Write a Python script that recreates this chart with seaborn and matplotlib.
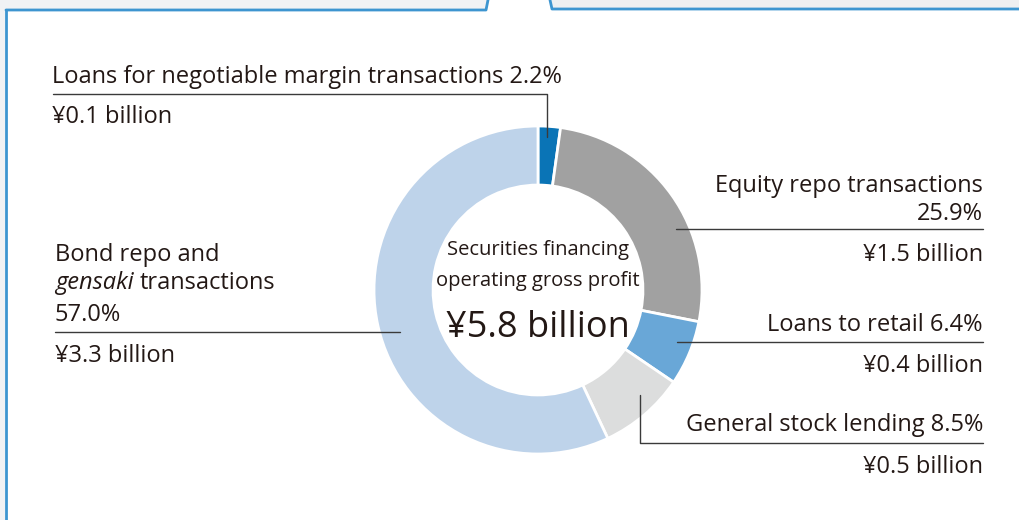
import numpy as np
import matplotlib
matplotlib.use("Agg")
import matplotlib.pyplot as plt
import seaborn as sns

# Datos del gráfico (orden horario desde arriba)
segmentos = ["Loans for negotiable margin transactions", "Equity repo transactions",
             "Loans to retail", "General stock lending", "Bond repo and gensaki transactions"]
porcentajes = [2.2, 25.9, 6.4, 8.5, 57.0]
montos = ["¥0.1 billion", "¥1.5 billion", "¥0.4 billion", "¥0.5 billion", "¥3.3 billion"]
colores = ["#0a74b6", "#a1a1a1", "#69a7d7", "#dcdddd", "#bed3ea"]
total = "¥5.8 billion"
titulo_centro = ["Securities financing", "operating gross profit"]

sns.set_theme(style="white")
plt.rcParams["font.family"] = ["Open Sans", "DejaVu Sans"]

W, H = 1020, 520
fig = plt.figure(figsize=(W / 100, H / 100), dpi=100)
ax = fig.add_axes([0, 0, 1, 1])


def py(y):
    # coordenada en pixeles desde arriba (con pequeño ajuste de línea base)
    return H - y - 2


# Dona
cx, cy, r = 538, H - 290, 164
ax.pie(porcentajes, colors=colores, startangle=90, counterclock=False,
       center=(cx, cy), radius=r, frame=True,
       wedgeprops=dict(width=r * 0.36, edgecolor="white", linewidth=2))
ax.set_xlim(0, W)
ax.set_ylim(0, H)
ax.set_aspect("equal")
ax.axis("off")

# Marco superior (pestañas)
marco = "#3d95d0"
ax.fill_between([0, 5], 0, H, color="#f1f2f4", lw=0)
ax.fill([0, 488, 486, 0], [H, H, H - 10, H - 10], color="#f1f2f4", lw=0)
ax.fill([550, W, W, 552], [H, H, H - 9, H - 9], color="#eeeff1", lw=0)
ax.plot([6, 6], [0, H - 10], color=marco, lw=2)
ax.plot([6, 486, 488], [H - 10, H - 10, H], color=marco, lw=2)
ax.plot([550, 552, W], [H, H - 9, H - 9], color=marco, lw=2)

# Texto central
ctexto = "#231815"
ax.text(cx, py(248), titulo_centro[0], ha="center", va="center", fontsize=14.5, color=ctexto)
ax.text(cx, py(279), titulo_centro[1], ha="center", va="center", fontsize=14.5, color=ctexto)
ax.text(cx, py(326), total, ha="center", va="center", fontsize=26, color=ctexto)

fs = 17
lc = "#3a3a3a"

# Loans for negotiable margin transactions
ax.text(52, py(75), f"{segmentos[0]} {porcentajes[0]}%", ha="left", va="center", fontsize=fs, color=ctexto)
ax.text(52, py(115), montos[0], ha="left", va="center", fontsize=fs, color=ctexto)
ax.plot([53, 547, 547], [H - 94, H - 94, H - 137], color=lc, lw=1)

# Equity repo transactions
ax.text(983, py(184), segmentos[1], ha="right", va="center", fontsize=fs, color=ctexto)
ax.text(983, py(212), f"{porcentajes[1]}%", ha="right", va="center", fontsize=fs, color=ctexto)
ax.text(983, py(253), montos[1], ha="right", va="center", fontsize=fs, color=ctexto)
ax.plot([676, 983], [H - 229, H - 229], color=lc, lw=1)

# Loans to retail
ax.text(983, py(323), f"{segmentos[2]} {porcentajes[2]}%", ha="right", va="center", fontsize=fs, color=ctexto)
ax.text(983, py(364), montos[2], ha="right", va="center", fontsize=fs, color=ctexto)
ax.plot([677, 983], [H - 342, H - 342], color=lc, lw=1)

# General stock lending
ax.text(983, py(423), f"{segmentos[3]} {porcentajes[3]}%", ha="right", va="center", fontsize=fs, color=ctexto)
ax.text(983, py(465), montos[3], ha="right", va="center", fontsize=fs, color=ctexto)
ax.plot([640, 640, 983], [H - 395, H - 443, H - 443], color=lc, lw=1)

# Bond repo and gensaki transactions
ax.text(55, py(253), "Bond repo and", ha="left", va="center", fontsize=fs, color=ctexto)
t = ax.text(55, py(281), "gensaki", ha="left", va="center", fontsize=fs, color=ctexto, style="italic")
fig.canvas.draw()
bb = t.get_window_extent()
ax.text(bb.x1 + 6, py(281), "transactions", ha="left", va="center", fontsize=fs, color=ctexto)
ax.text(55, py(313), f"{porcentajes[4]}%", ha="left", va="center", fontsize=fs, color=ctexto)
ax.text(55, py(354), montos[4], ha="left", va="center", fontsize=fs, color=ctexto)
ax.plot([55, 400], [H - 332, H - 332], color=lc, lw=1)

fig.savefig("out.png", dpi=100)
